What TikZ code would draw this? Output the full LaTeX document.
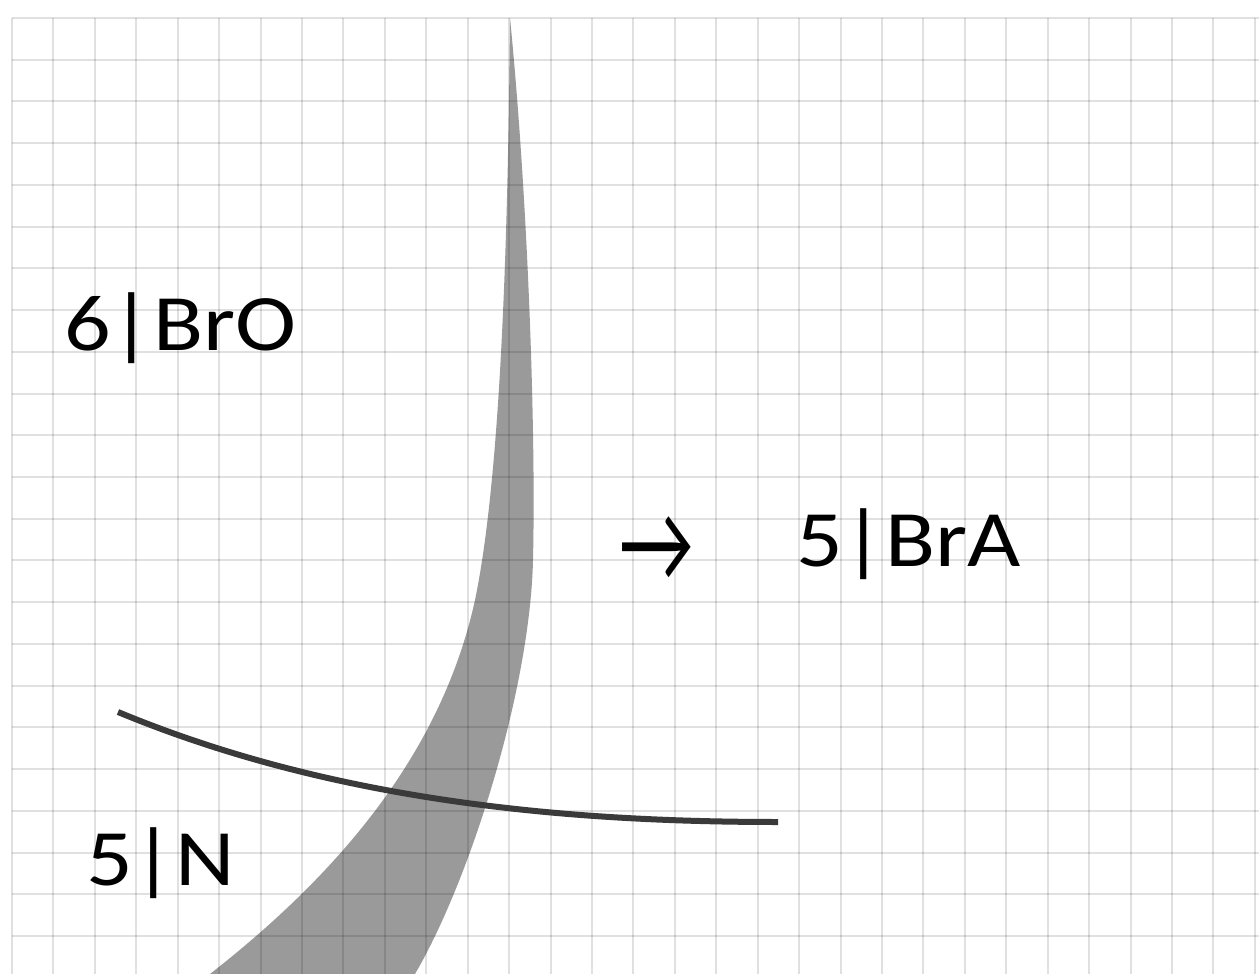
\documentclass[tikz,border=0pt]{standalone}
\usepackage{fontspec}
\setmainfont{Carlito}
\definecolor{bandgray}{RGB}{154,154,154}
\definecolor{curvegray}{RGB}{58,58,58}
\tikzset{
  gridline/.style={draw=black, draw opacity=0.12, line width=2pt},
  lbl/.style={inner sep=0pt, anchor=base west, font=\fontsize{80}{96}\selectfont},
  bigarrow/.style={inner sep=0pt, anchor=base west, font=\fontsize{82}{90}\selectfont}
}
\begin{document}
\begin{tikzpicture}[x=1pt,y=-1pt]
\useasboundingbox[fill=white] (0,0) rectangle (1259,974);
% grey band
\fill[bandgray] (510,18) .. controls (528,200) and (536,430) .. (533,560)
  .. controls (530,690) and (470,880) .. (415,974)
  -- (210,974) .. controls (330,880) and (440,760) .. (475,600)
  .. controls (500,480) and (508,250) .. (510,18) -- cycle;
% grid
\foreach \i in {0,...,30} \draw[gridline] ({12+41.43*\i},18) -- ({12+41.43*\i},974);
\foreach \j in {0,...,22} \draw[gridline] (12,{18+41.73*\j}) -- (1259,{18+41.73*\j});
% dark curve
\coordinate (cs) at (118,712);
\coordinate (ce) at (778,822);
\draw[curvegray, line width=6pt] (cs) .. controls (330,800) and (560,822) .. (ce);
% labels
\node[lbl] (bro) at (64,350) {\scalebox{1.15}[1]{6|BrO}};
\node[lbl] (bra) at (796,566) {\scalebox{1.15}[1]{5|BrA}};
\node[lbl] (n) at (86,885) {\scalebox{1.15}[1]{5|N}};
\node[bigarrow] (arr) at (619,581) {\scalebox{1}[1.38]{→}};
\end{tikzpicture}
\end{document}
